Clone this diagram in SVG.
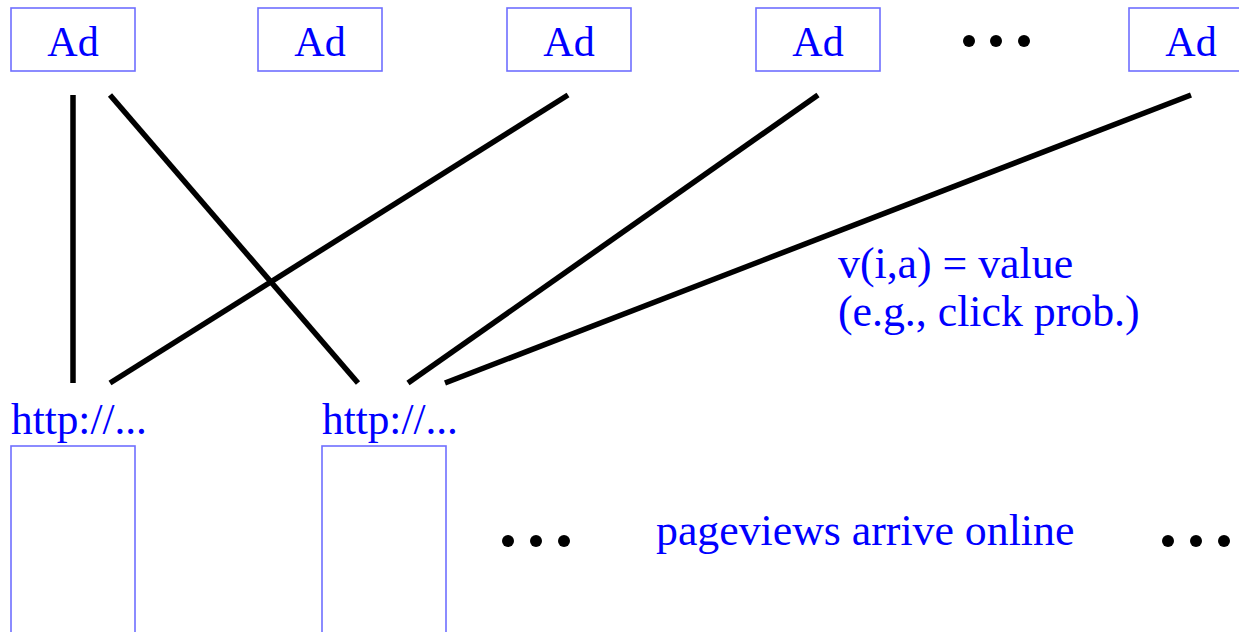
<svg xmlns="http://www.w3.org/2000/svg" width="1239" height="632" viewBox="0 0 1239 632">
<style>
.box{fill:none;stroke:#6f6fff;stroke-width:1.6}
.t{font-family:"Liberation Serif","Times New Roman",serif;font-size:42px;fill:#0000ff}
.w{font-size:43.8px}
.c{text-anchor:middle}
.e{stroke:#000;stroke-width:5.5;fill:none}
.dot{fill:#000}
</style>
<rect width="1239" height="632" fill="#fff"/>
<g id="ad1"><rect class="box" x="11" y="8" width="124" height="63"/><text class="t c" x="73" y="56">Ad</text></g>
<g id="ad2"><rect class="box" x="258" y="8" width="124" height="63"/><text class="t c" x="320" y="56">Ad</text></g>
<g id="ad3"><rect class="box" x="507" y="8" width="124" height="63"/><text class="t c" x="569" y="56">Ad</text></g>
<g id="ad4"><rect class="box" x="756" y="8" width="124" height="63"/><text class="t c" x="818" y="56">Ad</text></g>
<g id="adDots"><circle class="dot" cx="969" cy="41" r="6"/><circle class="dot" cx="996" cy="41" r="6"/><circle class="dot" cx="1024" cy="41" r="6"/></g>
<g id="ad5"><rect class="box" x="1129" y="8" width="124" height="63"/><text class="t c" x="1191" y="56">Ad</text></g>
<g id="connectors">
<line class="e" x1="73" y1="95" x2="73" y2="383"/>
<line class="e" x1="110" y1="95" x2="358" y2="383"/>
<line class="e" x1="568" y1="95" x2="110" y2="383"/>
<line class="e" x1="818" y1="95" x2="408" y2="383"/>
<line class="e" x1="1191" y1="95" x2="445" y2="383"/>
</g>
<g id="label"><text class="t w" x="838" y="278">v(i,a) = value</text><text class="t w" x="838" y="326">(e.g., click prob.)</text></g>
<g id="page1"><text class="t" x="11" y="434" style="font-size:43.3px">http://...</text><rect class="box" x="11" y="446" width="124" height="200"/></g>
<g id="page2"><text class="t" x="322" y="434" style="font-size:43.3px">http://...</text><rect class="box" x="322" y="446" width="124" height="200"/></g>
<g id="pageDots1"><circle class="dot" cx="508" cy="541" r="6"/><circle class="dot" cx="536" cy="541" r="6"/><circle class="dot" cx="564" cy="541" r="6"/></g>
<g id="caption"><text class="t w" x="656" y="545">pageviews arrive online</text></g>
<g id="pageDots2"><circle class="dot" cx="1168" cy="541" r="6"/><circle class="dot" cx="1196" cy="541" r="6"/><circle class="dot" cx="1224" cy="541" r="6"/></g>
</svg>
